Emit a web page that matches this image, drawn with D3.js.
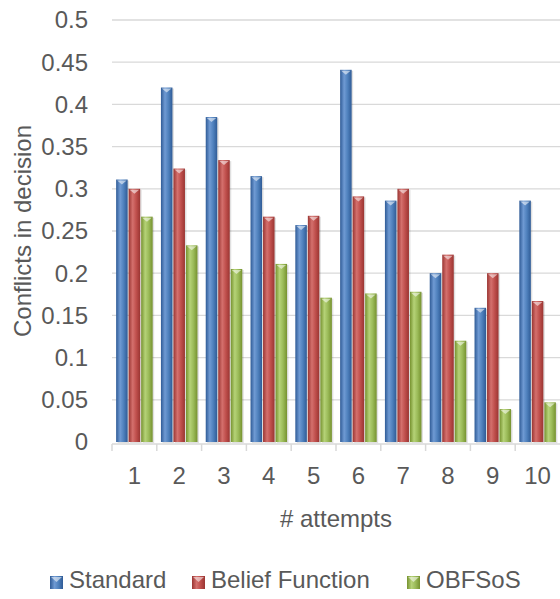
<!DOCTYPE html>
<html>
<head>
<meta charset="utf-8">
<script src="https://cdn.jsdelivr.net/npm/d3@7"></script>
<style>
  body { margin: 0; background: #fff; }
  text { font-family: "Liberation Sans", Arial, sans-serif; fill: #595959; }
</style>
</head>
<body>
<div class="chart"></div>
<script>
// chart data
const attempts = ["1", "2", "3", "4", "5", "6", "7", "8", "9", "10"]
const seriesNames = ["Standard", "Belief Function", "OBFSoS"]
const standard = [0.311, 0.42, 0.385, 0.315, 0.257, 0.441, 0.286, 0.2, 0.159, 0.286]
const beliefFunction = [0.3, 0.324, 0.334, 0.267, 0.268, 0.291, 0.3, 0.222, 0.2, 0.167]
const obfsos = [0.267, 0.233, 0.205, 0.211, 0.171, 0.176, 0.178, 0.12, 0.039, 0.047]
const yTicks = [0, 0.05, 0.1, 0.15, 0.2, 0.25, 0.3, 0.35, 0.4, 0.45, 0.5]

const values = [standard, beliefFunction, obfsos]
const colors = [
    {dark: "#2f5b96", mid: "#4f81bd", light: "#6f9ad3"},
    {dark: "#9a3532", mid: "#c0504d", light: "#d4706d"},
    {dark: "#76922f", mid: "#9bbb59", light: "#b5d277"}
]

let width = 560
let height = 599
let margin = {top: 20, right: 0, bottom: 157, left: 112}
let fontSize = "24px"

let svg = d3.select(".chart")
    .append("svg")
    .attr("width", width)
    .attr("height", height)

let defs = svg.append("defs")
colors.forEach(function (c, i) {
    let g = defs.append("linearGradient")
        .attr("id", "grad" + i)
        .attr("x1", "0%").attr("x2", "100%")
        .attr("y1", "0%").attr("y2", "0%")
    g.append("stop").attr("offset", "0%").attr("stop-color", c.dark)
    g.append("stop").attr("offset", "35%").attr("stop-color", c.light)
    g.append("stop").attr("offset", "65%").attr("stop-color", c.mid)
    g.append("stop").attr("offset", "100%").attr("stop-color", c.dark)
})

let x = d3.scaleBand()
    .domain(attempts)
    .range([margin.left, width - margin.right])

let x1 = d3.scaleBand()
    .domain(d3.range(seriesNames.length))
    .range([0, x.bandwidth()])
    .paddingInner(0.08)
    .paddingOuter(0.33)

let y = d3.scaleLinear()
    .domain([0, 0.5])
    .range([height - margin.bottom, margin.top])

// gridlines
svg.append("g")
    .selectAll("line")
    .data(yTicks.slice(1))
    .enter()
    .append("line")
    .attr("x1", margin.left)
    .attr("x2", width)
    .attr("y1", d => y(d))
    .attr("y2", d => y(d))
    .attr("stroke", "#d9d9d9")
    .attr("stroke-width", 1.3)

// y tick labels
svg.append("g")
    .selectAll("text")
    .data(yTicks)
    .enter()
    .append("text")
    .attr("x", 88)
    .attr("y", d => y(d))
    .attr("dy", "0.35em")
    .attr("text-anchor", "end")
    .style("font-size", fontSize)
    .text(d => d)

// x axis
let xAxis = svg.append("g")
    .attr("transform", "translate(0," + (y(0) + 2) + ")")
xAxis.append("line")
    .attr("x1", margin.left).attr("x2", width)
    .attr("stroke", "#d9d9d9").attr("stroke-width", 1.5)
xAxis.selectAll(".tick")
    .data(attempts)
    .enter()
    .append("line")
    .attr("x1", d => x(d)).attr("x2", d => x(d))
    .attr("y1", 0).attr("y2", 7)
    .attr("stroke", "#d9d9d9").attr("stroke-width", 1.5)
xAxis.selectAll("text")
    .data(attempts)
    .enter()
    .append("text")
    .attr("x", d => x(d) + x.bandwidth() / 2)
    .attr("y", 40)
    .attr("text-anchor", "middle")
    .style("font-size", fontSize)
    .text(d => d)

// bars
let groups = svg.append("g")
    .selectAll("g")
    .data(attempts)
    .enter()
    .append("g")
    .attr("transform", d => "translate(" + x(d) + ",0)")

let cells = (d, i) => values.map((s, k) => ({k: k, v: s[i]}))

groups.selectAll("rect.shadow")
    .data(cells)
    .enter()
    .append("rect")
    .attr("class", "shadow")
    .attr("x", d => x1(d.k) + 1.5)
    .attr("y", d => y(d.v) + 1)
    .attr("width", x1.bandwidth())
    .attr("height", d => y(0) - y(d.v))
    .attr("fill", "#000")
    .attr("opacity", 0.12)

groups.selectAll("rect.bar")
    .data(cells)
    .enter()
    .append("rect")
    .attr("class", "bar")
    .attr("x", d => x1(d.k))
    .attr("y", d => y(d.v))
    .attr("width", x1.bandwidth())
    .attr("height", d => y(0) - y(d.v))
    .attr("fill", d => "url(#grad" + d.k + ")")

// bevel on top of each bar
groups.selectAll("path.cap")
    .data(cells)
    .enter()
    .append("path")
    .attr("class", "cap")
    .attr("d", function (d) {
        let x0 = x1(d.k), w = x1.bandwidth(), t = y(d.v)
        return "M" + (x0 + 1) + "," + (t + 1) + "L" + (x0 + w - 1) + "," + (t + 1) +
            "L" + (x0 + w / 2) + "," + (t + 5) + "Z"
    })
    .attr("fill", "#fff")
    .attr("opacity", 0.55)

// axis titles
svg.append("text")
    .attr("transform", "translate(31," + (y(0.25)) + ") rotate(-90)")
    .attr("text-anchor", "middle")
    .style("font-size", fontSize)
    .text("Conflicts in decision")

svg.append("text")
    .attr("x", 336)
    .attr("y", 527)
    .attr("text-anchor", "middle")
    .style("font-size", fontSize)
    .text("# attempts")

// legend
let legendX = [50, 192, 407]
let legend = svg.append("g")
    .selectAll("g")
    .data(seriesNames)
    .enter()
    .append("g")
    .attr("transform", (d, i) => "translate(" + legendX[i] + ",576)")
legend.append("rect")
    .attr("width", 13)
    .attr("height", 13)
    .attr("fill", (d, i) => "url(#grad" + i + ")")
legend.append("path")
    .attr("d", "M1,1L12,1L6.5,6Z")
    .attr("fill", "#fff")
    .attr("opacity", 0.55)
legend.append("text")
    .attr("x", 19)
    .attr("y", 12)
    .style("font-size", fontSize)
    .text(d => d)
</script>
</body>
</html>
